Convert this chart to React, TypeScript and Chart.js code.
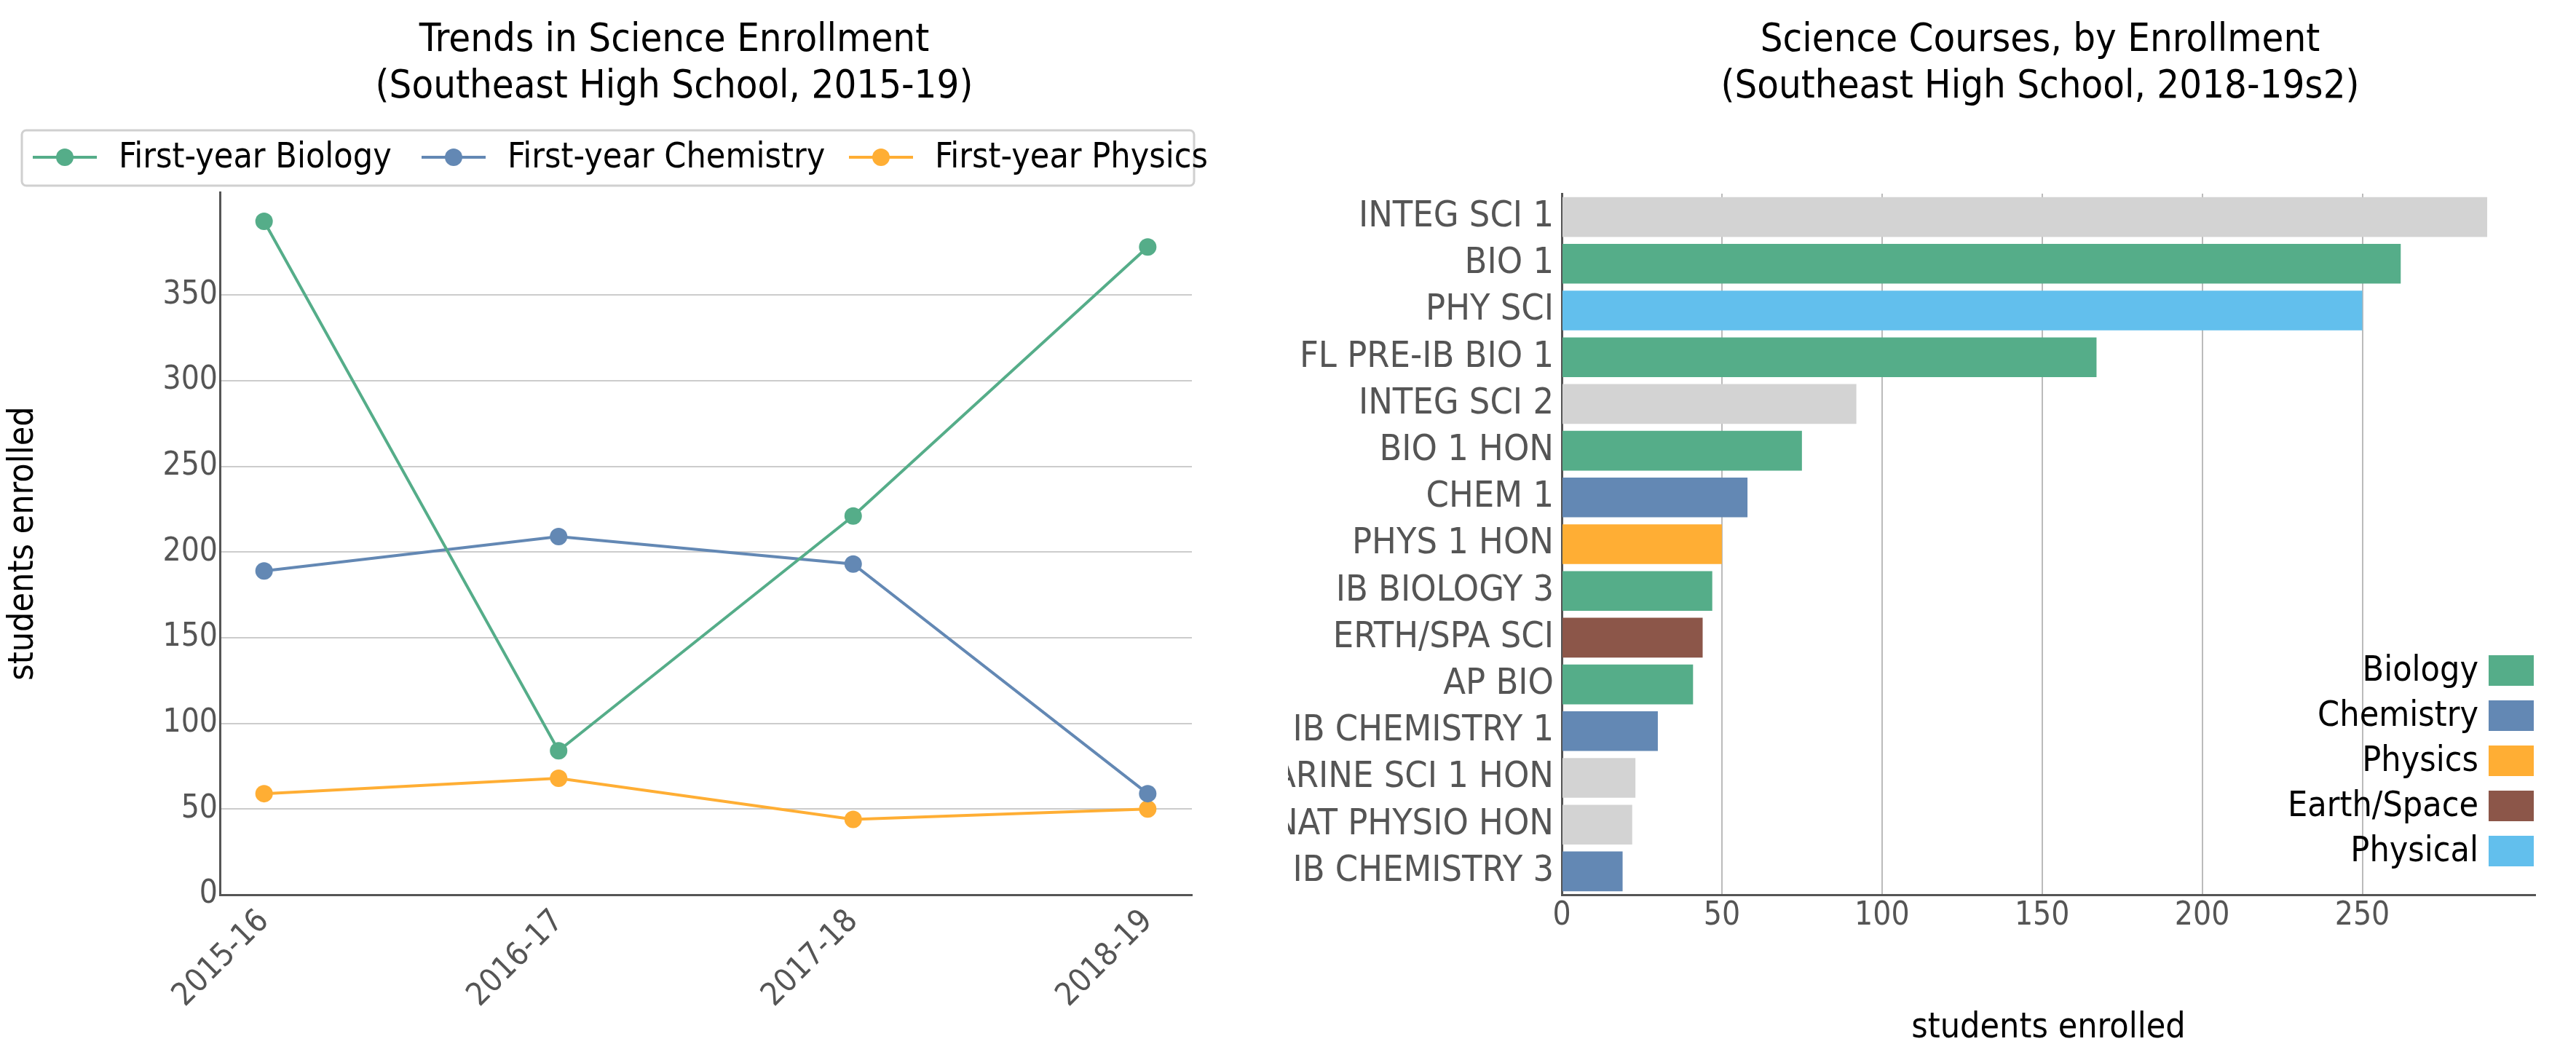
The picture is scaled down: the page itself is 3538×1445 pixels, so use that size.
import { useEffect, useRef } from "react";
import { Chart, registerables } from "chart.js";

Chart.register(...registerables);

const FONT = "'Liberation Sans Narrow', 'DejaVu Sans Condensed', 'Noto Sans', sans-serif";
const GREEN = "#55ad89";
const BLUE = "#6388b4";
const ORANGE = "#ffae34";
const BROWN = "#8c5649";
const SKY = "#62bfed";
const GRAY = "#d3d3d3";

const years = ["2015-16", "2016-17", "2017-18", "2018-19"];
const biology = [393, 84, 221, 378];
const chemistry = [189, 209, 193, 59];
const physics = [59, 68, 44, 50];

const courses = [
  "INTEG SCI 1", "BIO 1", "PHY SCI", "FL PRE-IB BIO 1", "INTEG SCI 2", "BIO 1 HON", "CHEM 1",
  "PHYS 1 HON", "IB BIOLOGY 3", "ERTH/SPA SCI", "AP BIO", "IB CHEMISTRY 1", "MARINE SCI 1 HON",
  "ANAT PHYSIO HON", "IB CHEMISTRY 3",
];
const enrolled = [289, 262, 250, 167, 92, 75, 58, 50, 47, 44, 41, 30, 23, 22, 19];
const courseSubject = [
  "Other", "Biology", "Physical", "Biology", "Other", "Biology", "Chemistry",
  "Physics", "Biology", "Earth/Space", "Biology", "Chemistry", "Other", "Other", "Chemistry",
];
const subjects = ["Biology", "Chemistry", "Physics", "Earth/Space", "Physical"];
const subjectColors: Record<string, string> = {
  Biology: GREEN, Chemistry: BLUE, Physics: ORANGE, "Earth/Space": BROWN, Physical: SKY, Other: GRAY,
};

const titlePlugin = (lines: string[], cx: number) => ({
  id: "titleLines",
  afterDraw(chart: any) {
    const ctx = chart.ctx;
    ctx.save();
    ctx.fillStyle = "#000";
    ctx.font = `54px ${FONT}`;
    ctx.textAlign = "center";
    ctx.textBaseline = "middle";
    lines.forEach((l, i) => ctx.fillText(l, cx, 56 + i * 64));
    ctx.restore();
  },
});

const lineLegend = {
  id: "lineLegend",
  afterDraw(chart: any) {
    const ctx = chart.ctx;
    ctx.save();
    ctx.strokeStyle = "#d0d0d0";
    ctx.lineWidth = 3;
    ctx.beginPath();
    ctx.roundRect(30, 179, 1610, 76, 6);
    ctx.stroke();
    const items = [
      { label: "First-year Biology", color: GREEN, x: 45 },
      { label: "First-year Chemistry", color: BLUE, x: 579 },
      { label: "First-year Physics", color: ORANGE, x: 1166 },
    ];
    ctx.font = `48px ${FONT}`;
    ctx.textBaseline = "middle";
    items.forEach((it) => {
      ctx.strokeStyle = it.color;
      ctx.fillStyle = it.color;
      ctx.lineWidth = 4;
      ctx.beginPath();
      ctx.moveTo(it.x, 216);
      ctx.lineTo(it.x + 88, 216);
      ctx.stroke();
      ctx.beginPath();
      ctx.arc(it.x + 44, 216, 12, 0, Math.PI * 2);
      ctx.fill();
      ctx.fillStyle = "#000";
      ctx.fillText(it.label, it.x + 118, 218);
    });
    ctx.restore();
  },
};

const barLegend = {
  id: "barLegend",
  afterDraw(chart: any) {
    const ctx = chart.ctx;
    const a = chart.chartArea;
    ctx.save();
    ctx.font = `48px ${FONT}`;
    ctx.textAlign = "right";
    ctx.textBaseline = "middle";
    subjects.forEach((s, i) => {
      const cy = a.bottom - 60 - (subjects.length - 1 - i) * 62;
      ctx.fillStyle = subjectColors[s];
      ctx.fillRect(a.right - 64, cy - 21, 62, 42);
      ctx.fillStyle = "#000";
      ctx.fillText(s, a.right - 78, cy + 2);
    });
    ctx.restore();
  },
};

const keepFifties = (scale: any) => {
  scale.ticks = scale.ticks.filter((t: any) => t.value % 50 === 0);
};

export default function App() {
  const lineRef = useRef<HTMLCanvasElement | null>(null);
  const barRef = useRef<HTMLCanvasElement | null>(null);

  useEffect(() => {
    document.body.style.margin = "0";
    const tick = { color: "#555", font: { family: FONT, size: 44 } };
    const axisTitle = { display: true, text: "students enrolled", color: "#000", font: { family: FONT, size: 48 } };

    const lineChart = new Chart(lineRef.current!, {
      type: "line",
      data: {
        datasets: [
          { label: "First-year Biology", data: biology.map((y, i) => ({ x: i, y })), borderColor: GREEN, backgroundColor: GREEN },
          { label: "First-year Chemistry", data: chemistry.map((y, i) => ({ x: i, y })), borderColor: BLUE, backgroundColor: BLUE },
          { label: "First-year Physics", data: physics.map((y, i) => ({ x: i, y })), borderColor: ORANGE, backgroundColor: ORANGE },
        ],
      },
      options: {
        animation: false,
        responsive: false,
        layout: { padding: { top: 264, right: 132 } },
        elements: { line: { borderWidth: 4, tension: 0 }, point: { radius: 12, borderWidth: 0 } },
        plugins: { legend: { display: false }, title: { display: false }, tooltip: { enabled: false } },
        scales: {
          x: {
            type: "linear",
            min: -0.15,
            max: 3.15,
            afterBuildTicks: (s: any) => { s.ticks = years.map((_, i) => ({ value: i })); },
            afterFit: (s: any) => { s.height = 216; },
            ticks: { ...tick, maxRotation: 45, minRotation: 45, callback: (v: any) => years[v] ?? "" },
            grid: { display: false },
            border: { color: "#555", width: 3 },
          },
          y: {
            min: 0,
            max: 410,
            afterBuildTicks: keepFifties,
            afterFit: (s: any) => { s.width = 302; },
            ticks: { ...tick, stepSize: 50 },
            title: axisTitle,
            grid: { color: "#cccccc", lineWidth: 2, drawTicks: false },
            border: { color: "#555", width: 3 },
          },
        },
      },
      plugins: [titlePlugin(["Trends in Science Enrollment", "(Southeast High School, 2015-19)"], 926), lineLegend],
    } as any);

    const barChart = new Chart(barRef.current!, {
      type: "bar",
      data: {
        labels: courses,
        datasets: [{ data: enrolled, backgroundColor: courseSubject.map((s) => subjectColors[s]), categoryPercentage: 0.85, barPercentage: 1 }],
      },
      options: {
        indexAxis: "y",
        animation: false,
        responsive: false,
        layout: { padding: { top: 266, right: 56 } },
        plugins: { legend: { display: false }, title: { display: false }, tooltip: { enabled: false } },
        scales: {
          x: {
            min: 0,
            max: 304,
            afterBuildTicks: keepFifties,
            afterFit: (s: any) => { s.height = 216; },
            ticks: { ...tick, stepSize: 50, maxRotation: 0 },
            title: axisTitle,
            grid: { color: "#bbbbbb", lineWidth: 2, drawTicks: false },
            border: { color: "#555", width: 3 },
          },
          y: {
            afterFit: (s: any) => { s.width = 376; },
            ticks: { ...tick, font: { family: FONT, size: 50 } },
            grid: { display: false },
            border: { color: "#555", width: 3 },
          },
        },
      },
      plugins: [titlePlugin(["Science Courses, by Enrollment", "(Southeast High School, 2018-19s2)"], 1033), barLegend],
    } as any);

    return () => {
      lineChart.destroy();
      barChart.destroy();
    };
  }, []);

  return (
    <div style={{ position: "absolute", left: 0, top: 0, width: 3538, height: 1445, background: "#fff", display: "flex" }}>
      <canvas ref={lineRef} width={1769} height={1445} style={{ width: 1769, height: 1445 }} />
      <canvas ref={barRef} width={1769} height={1445} style={{ width: 1769, height: 1445 }} />
    </div>
  );
}
